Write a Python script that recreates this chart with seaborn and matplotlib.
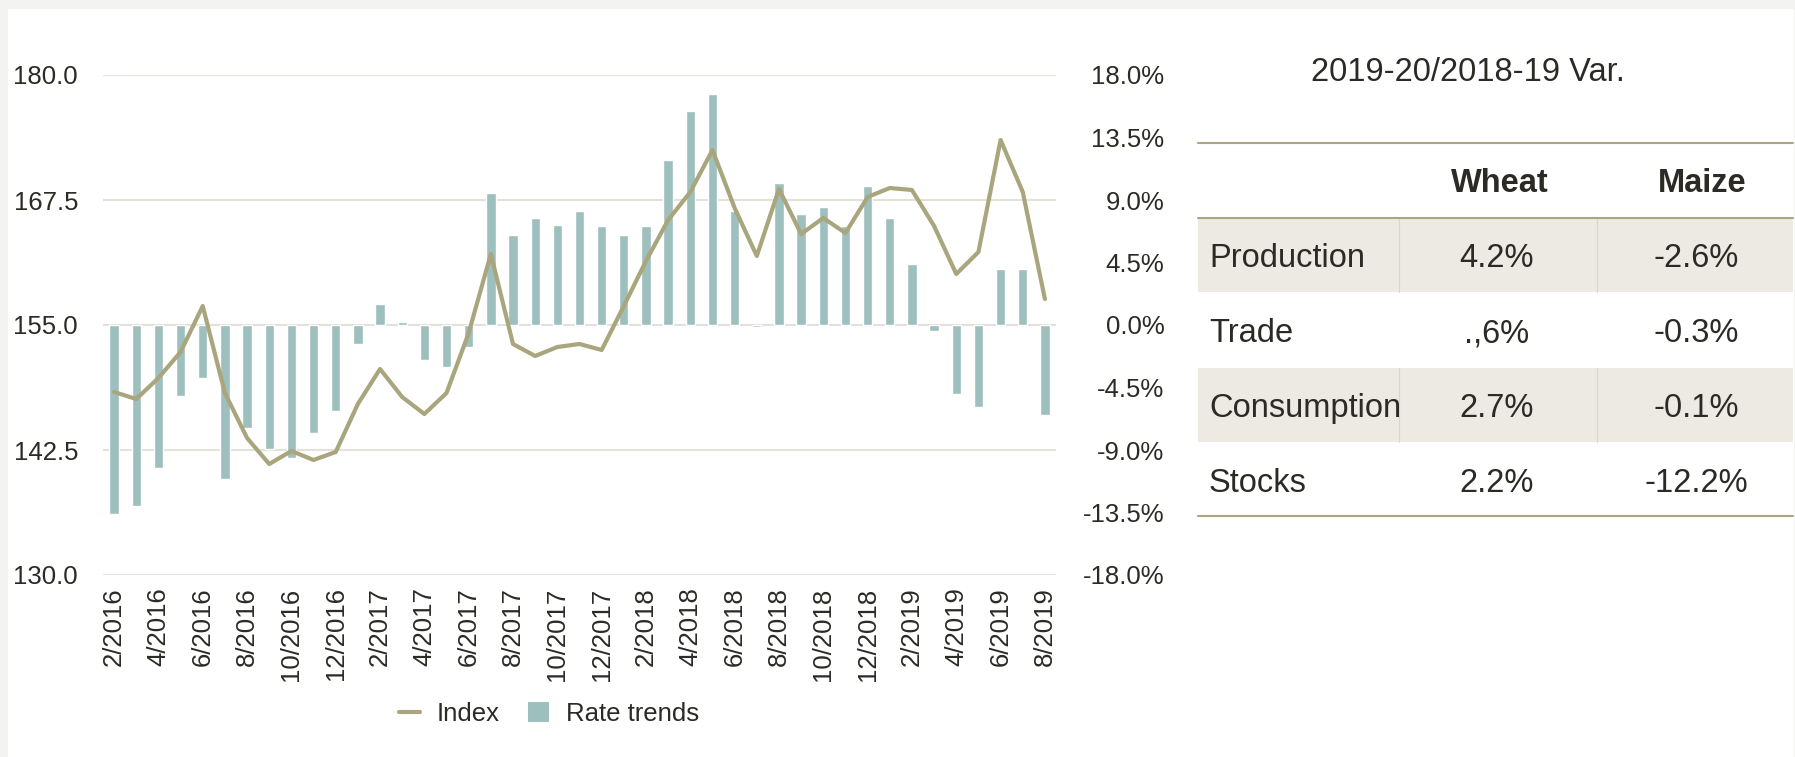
import numpy as np
import pandas as pd
import matplotlib.pyplot as plt
import seaborn as sns
from matplotlib.lines import Line2D
from matplotlib.patches import Patch, Rectangle

# data
months = ["2/2016", "3/2016", "4/2016", "5/2016", "6/2016", "7/2016", "8/2016", "9/2016",
          "10/2016", "11/2016", "12/2016", "1/2017", "2/2017", "3/2017", "4/2017", "5/2017",
          "6/2017", "7/2017", "8/2017", "9/2017", "10/2017", "11/2017", "12/2017", "1/2018",
          "2/2018", "3/2018", "4/2018", "5/2018", "6/2018", "7/2018", "8/2018", "9/2018",
          "10/2018", "11/2018", "12/2018", "1/2019", "2/2019", "3/2019", "4/2019", "5/2019",
          "6/2019", "7/2019", "8/2019"]
index_vals = [148.3, 147.6, 149.7, 152.3, 156.9, 148.2, 143.7, 141.1, 142.4, 141.5, 142.3,
              147.1, 150.6, 147.8, 146.1, 148.2, 154.2, 162.1, 153.1, 151.9, 152.8, 153.1,
              152.5, 156.9, 161.4, 165.5, 168.3, 172.5, 166.7, 161.9, 168.6, 164.1, 165.7,
              164.2, 167.8, 168.7, 168.5, 164.9, 160.1, 162.3, 173.5, 168.3, 157.6]
rate_vals = [-13.6, -13.0, -10.3, -5.1, -3.8, -11.1, -7.4, -8.9, -9.6, -7.8, -6.2,
             -1.4, 1.5, 0.2, -2.5, -3.0, -1.6, 9.5, 6.5, 7.7, 7.2, 8.2,
             7.1, 6.5, 7.1, 11.9, 15.4, 16.6, 8.2, -0.15, 10.2, 8.0, 8.5,
             7.1, 10.0, 7.7, 4.4, -0.45, -5.0, -5.9, 4.0, 4.0, -6.5]
left_ticks = [130.0, 142.5, 155.0, 167.5, 180.0]
right_ticks_major = [-18.0, -9.0, 0.0, 9.0, 18.0]   # these carry the gridlines
right_ticks_minor = [-13.5, -4.5, 4.5, 13.5]

table_title = "2019-20/2018-19 Var."
table_cols = ["Wheat", "Maize"]
table_rows = ["Production", "Trade", "Consumption", "Stocks"]
wheat_var = ["4.2%", ".,6%", "2.7%", "2.2%"]
maize_var = ["-2.6%", "-0.3%", "-0.1%", "-12.2%"]

df = pd.DataFrame({"month": months, "index": index_vals, "rate": rate_vals})

line_color = "#a9a57d"
bar_color = "#9dbfbe"
grid_color = "#e4e1da"
rule_color = "#aaa682"
shade_color = "#eceae2"
text_color = "#2c2a24"

sns.set_theme(style="white")
plt.rcParams["font.family"] = ["Liberation Sans", "DejaVu Sans"]
plt.rcParams["text.color"] = text_color

W, H = 1795, 757
fig = plt.figure(figsize=(W / 100, H / 100), dpi=100)
fig.patch.set_facecolor("#f3f3f1")
fig.patches.append(Rectangle((8 / W, 0), (W - 9) / W, (H - 9) / H,
                             transform=fig.transFigure, fc="white", ec="none", zorder=-1))

# full-figure canvas for the table, in pixel units
tax = fig.add_axes([0, 0, 1, 1])
tax.set_xlim(0, W)
tax.set_ylim(H, 0)
tax.set_axis_off()

# chart: bars on the main axes (right scale), line on the twin (left scale)
ax = fig.add_axes([103 / W, 1 - 575 / H, (1056 - 103) / W, 500 / H])
ax2 = ax.twinx()

sns.barplot(data=df, x="month", y="rate", ax=ax, color=bar_color, saturation=1,
            width=0.42, errorbar=None, zorder=2)
sns.lineplot(data=df, x="month", y="index", ax=ax2, color=line_color, linewidth=3,
             sort=False)

ax.yaxis.tick_right()
ax2.yaxis.tick_left()
ax.set_ylim(-18, 18)
ax2.set_ylim(130, 180)
ax.set_xlim(-0.5, len(months) - 0.5)

ax.set_yticks(right_ticks_major, [f"{v:.1f}%" for v in right_ticks_major])
ax.set_yticks(right_ticks_minor, [f"{v:.1f}%" for v in right_ticks_minor], minor=True)
ax2.set_yticks(left_ticks, [f"{v:.1f}" for v in left_ticks])
ax.set_xticks(range(0, len(months), 2))
ax.set_xticklabels(months[::2], rotation=90)

ax.grid(False)
ax2.grid(False)
ax.yaxis.grid(True, which="major", color=grid_color, linewidth=1.5)
ax.set_axisbelow(True)
for a in (ax, ax2):
    a.set_xlabel("")
    a.set_ylabel("")
    for s in a.spines.values():
        s.set_visible(False)
ax.patch.set_visible(False)

ax.tick_params(axis="y", which="both", length=0, pad=78, labelsize=18.5,
               labelcolor=text_color, left=False, labelleft=False, right=True, labelright=True)
ax.tick_params(axis="x", length=0, pad=9, labelsize=18.5, labelcolor=text_color)
ax2.tick_params(axis="y", length=0, pad=18, labelsize=18.5, labelcolor=text_color)
plt.setp(ax.get_yticklabels(which="both"), ha="right")

handles = [Line2D([], [], color=line_color, linewidth=3),
           Patch(facecolor=bar_color, edgecolor="none")]
fig.legend(handles, ["Index", "Rate trends"], loc="center", ncol=2, frameon=False,
           bbox_to_anchor=(549 / W, 1 - 714 / H), fontsize=18.5, handlelength=0.82,
           handleheight=0.82, handletextpad=0.65, columnspacing=1.1)

# table on the right
x0, x1 = 1198, 1793
col_div = [1399, 1597]
rows_top = [217.6, 293.0, 367.6, 442.0]
row_h = 74.4
tfs = 23.5

tax.text(1468, 81, table_title, ha="center", va="baseline", fontsize=tfs)
for i, name in enumerate(table_rows):
    top = rows_top[i]
    if i % 2 == 0:
        tax.add_patch(Rectangle((x0, top), x1 - x0, row_h, fc=shade_color, ec="none"))
        for xd in col_div:
            tax.plot([xd, xd], [top, top + row_h], color="#d9d7cb", linewidth=0.8)
    base = top + 49.5
    tax.text(1209, base, name, ha="left", va="baseline", fontsize=tfs)
    tax.text(1497, base, wheat_var[i], ha="center", va="baseline", fontsize=tfs)
    tax.text(1696, base, maize_var[i], ha="center", va="baseline", fontsize=tfs)

tax.text(1500, 192, table_cols[0], ha="center", va="baseline", fontsize=tfs, fontweight="bold")
tax.text(1702, 192, table_cols[1], ha="center", va="baseline", fontsize=tfs, fontweight="bold")
for y in (143.2, 217.6, 516.4):
    tax.plot([x0, x1], [y, y], color=rule_color, linewidth=1.5)

fig.savefig("out.png", dpi=100, facecolor=fig.get_facecolor())
